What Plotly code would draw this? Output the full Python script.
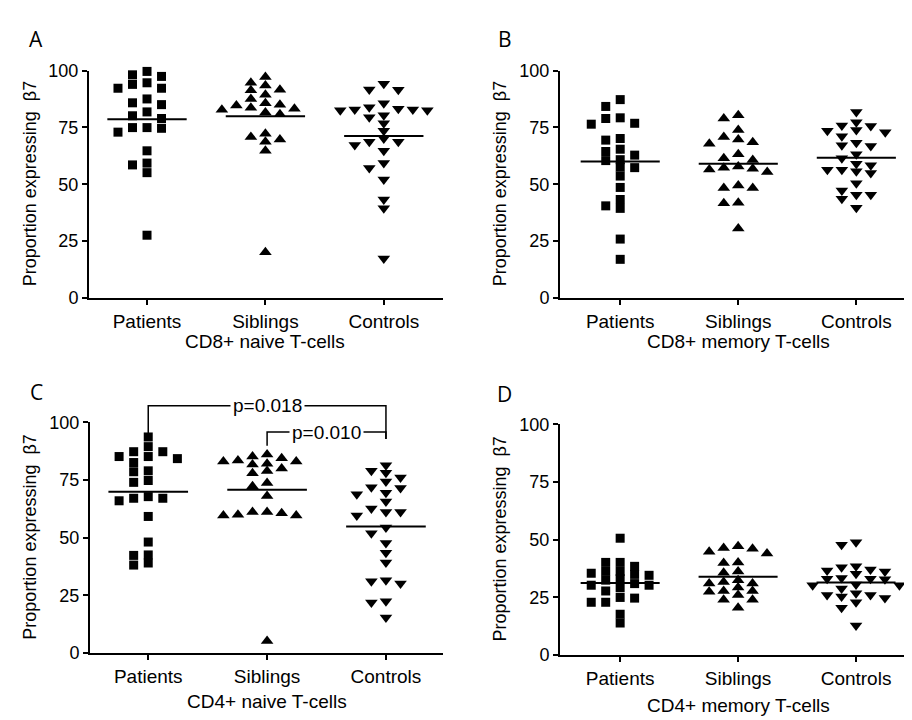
import numpy as np
import plotly.graph_objects as go

W, H = 912, 720

# ---------------- data ----------------
categories = ["Patients", "Siblings", "Controls"]
y_ticks = [0, 25, 50, 75, 100]
y_title = "Proportion expressing  \u03b27"

cd8_naive_patients = [99.6, 97.4, 98.1, 92.2, 93.9, 94.6, 92.2, 87.5, 85.0, 85.8, 81.8,
                      80.1, 78.9, 74.9, 74.6, 74.9, 72.9, 64.7, 58.5, 59.3, 55.1, 27.6]
cd8_naive_siblings = [97.1, 94.6, 93.4, 91.3, 91.5, 89.3, 87.5, 85.6, 84.9, 84.6, 83.2,
                      83.6, 82.8, 81.5, 80.8, 70.8, 72.2, 68.7, 69.7, 64.7, 20.1]
cd8_naive_controls = [94.2, 91.7, 91.5, 85.6, 82.9, 82.5, 83.9, 83.2, 82.5, 82.9, 80.3,
                      79.4, 76.8, 73.5, 70.1, 68.7, 67.2, 68.7, 64.7, 59.3, 57.1, 52.1,
                      43.3, 39.4, 17.4]

cd8_memory_patients = [87.2, 84.2, 78.9, 79.2, 76.4, 76.8, 70.1, 69.4, 65.4, 64.4, 62.8,
                       60.4, 60.8, 57.3, 57.5, 53.6, 48.6, 43.3, 40.5, 39.4, 25.9, 17.0]
cd8_memory_siblings = [80.3, 78.9, 73.9, 70.8, 69.7, 68.5, 67.8, 63.2, 60.7, 61.4, 57.3,
                       56.5, 55.4, 56.8, 57.8, 49.4, 48.3, 48.3, 41.9, 41.6, 30.5]
cd8_memory_controls = [81.8, 73.9, 75.8, 75.6, 77.2, 73.5, 72.9, 71.1, 67.1, 68.2, 66.8,
                       63.2, 61.4, 58.3, 59.0, 56.4, 55.0, 55.7, 56.4, 50.4, 47.3, 45.4,
                       43.6, 45.4, 39.7]

cd4_naive_patients = [93.7, 89.5, 87.3, 87.3, 85.2, 84.3, 85.2, 82.6, 79.0, 78.6, 74.0,
                      74.8, 67.8, 67.1, 66.0, 67.1, 59.2, 48.1, 42.3, 42.5, 38.1, 39.0]
cd4_naive_siblings = [86.1, 84.5, 85.2, 83.5, 83.1, 83.1, 82.1, 81.7, 78.9, 80.0, 77.9,
                      73.7, 72.3, 68.1, 61.1, 61.1, 59.6, 59.6, 59.9, 60.6, 5.2]
cd4_naive_controls = [81.4, 79.0, 78.2, 76.1, 74.4, 71.9, 71.6, 69.5, 68.8, 65.7, 62.7,
                      59.6, 61.1, 61.1, 54.4, 51.9, 47.7, 43.5, 39.2, 31.5, 30.1, 31.1,
                      22.4, 21.9, 15.3]

cd4_memory_patients = [50.6, 38.4, 40.1, 40.1, 36.2, 35.4, 36.2, 34.9, 34.5, 32.4, 33.0,
                       30.2, 29.1, 30.2, 30.9, 27.7, 24.9, 24.6, 22.8, 22.8, 17.6, 13.8]
cd4_memory_siblings = [46.4, 44.7, 44.0, 46.0, 47.1, 39.8, 40.1, 35.6, 36.2, 32.4, 30.9,
                       31.6, 30.9, 29.2, 27.7, 27.4, 27.7, 26.0, 23.9, 23.9, 20.4]
cd4_memory_controls = [47.8, 48.8, 37.0, 38.4, 36.2, 35.2, 36.6, 38.0, 32.8, 33.0, 33.0,
                       33.3, 30.2, 30.2, 30.5, 28.8, 26.7, 26.0, 26.0, 24.6, 25.3, 22.8,
                       20.4, 12.7]

panel_titles = ["CD8+ naive T-cells", "CD8+ memory T-cells",
                "CD4+ naive T-cells", "CD4+ memory T-cells"]
panel_letters = ["A", "B", "C", "D"]
panel_data = [
    [cd8_naive_patients, cd8_naive_siblings, cd8_naive_controls],
    [cd8_memory_patients, cd8_memory_siblings, cd8_memory_controls],
    [cd4_naive_patients, cd4_naive_siblings, cd4_naive_controls],
    [cd4_memory_patients, cd4_memory_siblings, cd4_memory_controls],
]
# significance comparisons on panel C: (from group, to group, label)
c_comparisons = [(0, 2, "p=0.018"), (1, 2, "p=0.010")]

# ---------------- layout (pixel geometry) ----------------
layouts = [
    dict(px=(81, 435), py=(54, 288), xr=(-0.49, 2.5), letter=(28, 22), ytx=22, xty=333),
    dict(px=(552, 905), py=(54, 288), xr=(-0.51, 2.48), letter=(497, 22), ytx=492, xty=333),
    dict(px=(82, 435), py=(416, 653), xr=(-0.49, 2.48), letter=(28, 385), ytx=22, xty=703),
    dict(px=(552, 907), py=(418, 655), xr=(-0.51, 2.5), letter=(497, 387), ytx=492, xty=707),
]
symbols = ["square", "triangle-up", "triangle-down"]
sizes = [9, 11, 11]
FONT = "Arial, Liberation Sans, sans-serif"
STEP = 0.1226


def swarm(values, ppu_y, ppu_x, gx=9.0, gy=7.5):
    """Simple deterministic beeswarm on a half-step grid."""
    vals = np.asarray(values, dtype=float)
    order = np.argsort(-vals, kind="stable")
    placed = []
    offs = np.zeros(len(vals))
    cands = [0.0]
    for k in range(1, 13):
        cands += [-0.5 * k, 0.5 * k]
    for i in order:
        v = vals[i]
        chosen = cands[-1]
        for c in cands:
            ok = True
            for pc, pv in placed:
                if abs(pc - c) * STEP * ppu_x < gx and abs(pv - v) * ppu_y < gy:
                    ok = False
                    break
            if ok:
                chosen = c
                break
        placed.append((chosen, v))
        offs[i] = chosen * STEP
    return offs


fig = go.Figure()
annotations = []
shapes = []

for p, (data, lay) in enumerate(zip(panel_data, layouts)):
    sfx = "" if p == 0 else str(p + 1)
    xa, ya = "x" + sfx, "y" + sfx
    x0, x1 = lay["px"]
    yt, yb = lay["py"]
    ppu_y = (yb - yt) / 100.0
    ppu_x = (x1 - x0) / (lay["xr"][1] - lay["xr"][0])
    for g, vals in enumerate(data):
        offs = swarm(vals, ppu_y, ppu_x)
        fig.add_trace(go.Scatter(
            x=g + offs, y=vals, mode="markers", xaxis=xa, yaxis=ya,
            marker=dict(symbol=symbols[g], size=sizes[g], color="black",
                        line=dict(width=0)),
            cliponaxis=False, showlegend=False, hoverinfo="y"))
        m = float(np.mean(vals))
        fig.add_trace(go.Scatter(
            x=[g - 0.335, g + 0.335], y=[m, m], mode="lines", xaxis=xa, yaxis=ya,
            line=dict(color="black", width=2), showlegend=False, hoverinfo="skip"))

    axis_common = dict(showline=True, linewidth=2, linecolor="black", ticks="outside",
                       ticklen=5, tickwidth=2, tickcolor="black", showgrid=False,
                       zeroline=False, fixedrange=True)
    fig.update_layout(**{
        "xaxis" + sfx: dict(domain=[x0 / W, x1 / W], range=list(lay["xr"]),
                            tickvals=[0, 1, 2], ticktext=categories, anchor=ya,
                            tickfont=dict(family=FONT, size=19, color="black"),
                            **axis_common),
        "yaxis" + sfx: dict(domain=[1 - yb / H, 1 - yt / H], range=[0, 100],
                            tickvals=y_ticks, anchor=xa,
                            tickfont=dict(family=FONT, size=18, color="black"),
                            **axis_common),
    })

    lx, ly = lay["letter"]
    annotations.append(dict(text=panel_letters[p], x=lx / W, y=1 - ly / H, xref="paper",
                            yref="paper", showarrow=False, xanchor="center", yanchor="middle",
                            font=dict(family="Open Sans, sans-serif", size=21, color="black")))
    annotations.append(dict(text=y_title, x=lay["ytx"] / W, y=1 - (yt + yb) / 2 / H,
                            xref="paper", yref="paper", showarrow=False, textangle=-90,
                            xanchor="center", yanchor="middle",
                            font=dict(family=FONT, size=18, color="black")))
    xc = x0 + (1 - lay["xr"][0]) / (lay["xr"][1] - lay["xr"][0]) * (x1 - x0)
    annotations.append(dict(text=panel_titles[p], x=xc / W, y=1 - lay["xty"] / H,
                            xref="paper", yref="paper", showarrow=False,
                            xanchor="center", yanchor="middle",
                            font=dict(family=FONT, size=19, color="black")))

# significance brackets on panel C (paper coordinates derived from axis geometry)
lay = layouts[2]


def cx(v):
    x0, x1 = lay["px"]
    r0, r1 = lay["xr"]
    return (x0 + (v - r0) / (r1 - r0) * (x1 - x0)) / W


def cy(v):
    yt, yb = lay["py"]
    return 1 - (yb - v / 100.0 * (yb - yt)) / H


bracket_levels = [(107.2, 92.8, 92.8), (95.8, 89.9, 92.8)]
for (a, b, label), (top, la, lb) in zip(c_comparisons, bracket_levels):
    path = (f"M {cx(a)},{cy(la)} L {cx(a)},{cy(top)} L {cx(b)},{cy(top)} "
            f"L {cx(b)},{cy(lb)}")
    shapes.append(dict(type="path", path=path, xref="paper", yref="paper",
                       line=dict(color="black", width=1.5)))
    annotations.append(dict(text=label, x=cx((a + b) / 2), y=cy(top), xref="paper",
                            yref="paper", showarrow=False, xanchor="center",
                            yanchor="middle", bgcolor="white", borderpad=2,
                            font=dict(family=FONT, size=19, color="black")))

fig.update_layout(width=W, height=H, margin=dict(l=0, r=0, t=0, b=0),
                  paper_bgcolor="white", plot_bgcolor="white",
                  annotations=annotations, shapes=shapes, showlegend=False)

fig.write_html("out.html")
